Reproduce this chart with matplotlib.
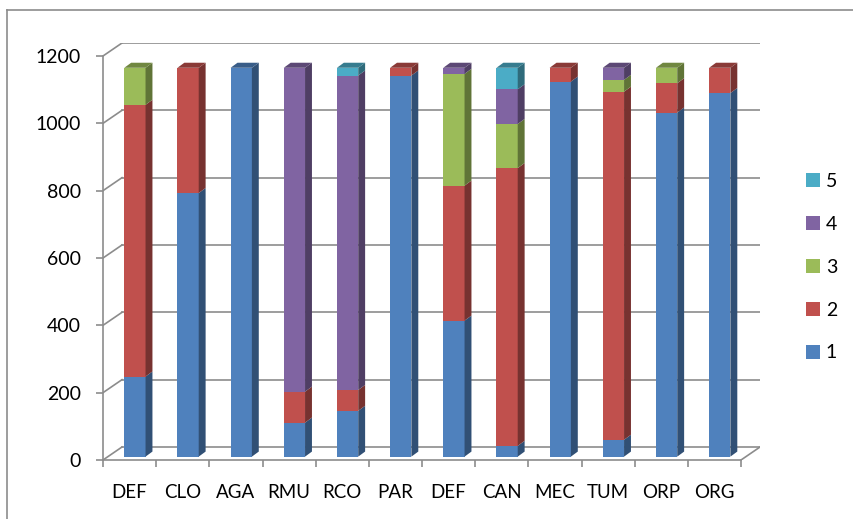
import numpy as np
import matplotlib.pyplot as plt
from matplotlib.patches import Polygon, Patch
from matplotlib.lines import Line2D
from matplotlib.colors import to_rgb

plt.rcParams['font.family'] = ['Lato', 'DejaVu Sans']

cats = ['DEF', 'CLO', 'AGA', 'RMU', 'RCO', 'PAR', 'DEF', 'CAN', 'MEC', 'TUM', 'ORP', 'ORG']
s1 = [238, 783, 1155, 101, 136, 1132, 404, 32, 1114, 50, 1022, 1080]
s2 = [807, 372, 0, 92, 62, 23, 401, 825, 41, 1034, 87, 75]
s3 = [110, 0, 0, 0, 0, 0, 332, 131, 0, 35, 46, 0]
s4 = [0, 0, 0, 962, 934, 0, 18, 103, 0, 36, 0, 0]
s5 = [0, 0, 0, 0, 23, 0, 0, 64, 0, 0, 0, 0]
series = [s1, s2, s3, s4, s5]
names = ['1', '2', '3', '4', '5']
colors = ['#4F81BD', '#C0504D', '#9BBB59', '#8064A2', '#4BACC6']
yticks = [0, 200, 400, 600, 800, 1000, 1200]

# 3d look: wall depth and bar depth in data units
W, D = 0.357, 38.6
bw, bdx, bdy = 0.4, 0.13, 15.0
base = 10.0
xoff = 0.1
grid_c = '#8c8c8c'

def shade(c, f):
    r, g, b = to_rgb(c)
    return (r * f, g * f, b * f)

fig = plt.figure(figsize=(8.54, 5.19), dpi=100)
ax = fig.add_axes([103 / 854, 59 / 519, 657 / 854, 417 / 519])
n = len(cats)
ax.set_xlim(-0.5, n - 0.5 + W)
ax.set_ylim(0, 1200 + D)

# back wall gridlines and left wall diagonals
for v in yticks:
    ax.plot([-0.5 + W, n - 0.5 + W], [v + D, v + D], color=grid_c, lw=1.2, zorder=1)
    ax.plot([-0.5, -0.5 + W], [v, v + D], color=grid_c, lw=1.2, zorder=1)
ax.plot([n - 0.5, n - 0.5 + W], [0, D], color=grid_c, lw=1.2, zorder=1)

x = np.arange(n) + xoff
bottom = np.zeros(n) + base
for vals, c in zip(series, colors):
    vals = np.array(vals, dtype=float)
    ax.bar(x, vals, width=bw, bottom=bottom, color=c, zorder=3, linewidth=0)
    for xi, b, h in zip(x, bottom, vals):
        if h <= 0:
            continue
        xr = xi + bw / 2
        ax.add_patch(Polygon([(xr, b), (xr + bdx, b + bdy), (xr + bdx, b + h + bdy), (xr, b + h)],
                             closed=True, fc=shade(c, 0.62), ec='none', zorder=3))
    bottom = bottom + vals

# top faces
for i in range(n):
    top_c = [c for vals, c in zip(series, colors) if vals[i] > 0][-1]
    xl, xr, t = x[i] - bw / 2, x[i] + bw / 2, bottom[i]
    ax.add_patch(Polygon([(xl, t), (xl + bdx, t + bdy), (xr + bdx, t + bdy), (xr, t)],
                         closed=True, fc=shade(top_c, 0.72), ec='none', zorder=3))

for s in ['top', 'right']:
    ax.spines[s].set_visible(False)
ax.spines['left'].set_bounds(0, 1200)
ax.spines['bottom'].set_bounds(-0.5, n - 0.5)
for s in ['left', 'bottom']:
    ax.spines[s].set_color(grid_c)
    ax.spines[s].set_linewidth(1.2)

ax.set_yticks(yticks)
ax.set_yticklabels([str(v) for v in yticks], fontsize=14)
ax.tick_params(axis='y', length=5, width=1.2, color=grid_c, pad=11)
ax.set_xticks(np.arange(n))
ax.set_xticklabels(cats, fontsize=13.5)
ax.set_xticks(np.arange(n + 1) - 0.5, minor=True)
ax.tick_params(axis='x', which='major', length=0, pad=17)
ax.tick_params(axis='x', which='minor', length=5, width=1.2, color=grid_c)

handles = [Patch(fc=c) for c in colors][::-1]
fig.legend(handles, names[::-1], loc='upper left', bbox_to_anchor=(806 / 854, 1 - 173 / 519),
           frameon=False, fontsize=14, handlelength=0.72, handleheight=0.72,
           handletextpad=0.3, labelspacing=1.33, borderpad=0, borderaxespad=0)

# outer chart border (only top and left visible)
fig.add_artist(Line2D([7 / 854, 7 / 854], [0, 1 - 10 / 519], transform=fig.transFigure, color=grid_c, lw=1.2))
fig.add_artist(Line2D([7 / 854, 1], [1 - 10 / 519, 1 - 10 / 519], transform=fig.transFigure, color=grid_c, lw=1.2))

fig.savefig('out.png', dpi=100)
